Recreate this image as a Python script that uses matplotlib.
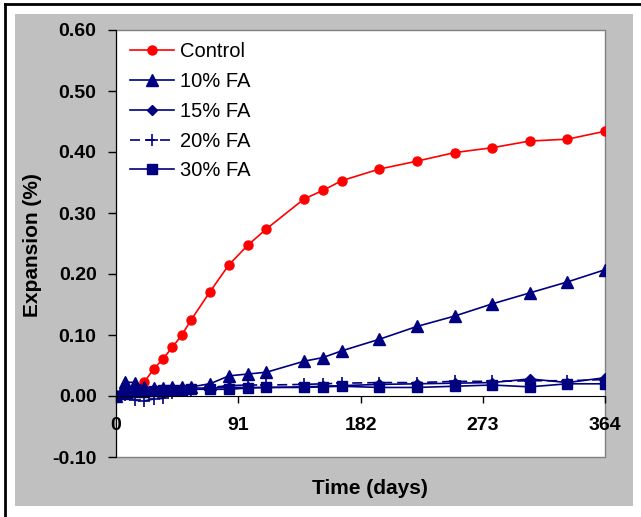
import numpy as np
import matplotlib
matplotlib.use("Agg")
import matplotlib.pyplot as plt
from matplotlib.patches import Rectangle
from matplotlib.lines import Line2D

plt.rcParams['font.family'] = ['Liberation Sans', 'DejaVu Sans']

# data
days = [0, 7, 14, 21, 28, 35, 42, 49, 56, 70, 84, 98, 112, 140, 154, 168,
        196, 224, 252, 280, 308, 336, 364]
control_days = days[3:]
control = [0.023, 0.044, 0.061, 0.080, 0.100, 0.125, 0.171, 0.215, 0.247, 0.274,
           0.323, 0.337, 0.353, 0.372, 0.385, 0.399, 0.407, 0.418, 0.421, 0.434]
fa10 = [0.000, 0.023, 0.022, 0.015, 0.013, 0.013, 0.014, 0.014, 0.015, 0.020, 0.033,
        0.036, 0.039, 0.057, 0.063, 0.074, 0.093, 0.114, 0.131, 0.151, 0.169, 0.187, 0.207]
fa15 = [0.002, 0.005, 0.008, 0.009, 0.010, 0.011, 0.012, 0.012, 0.013, 0.013, 0.014,
        0.014, 0.014, 0.015, 0.016, 0.017, 0.019, 0.020, 0.021, 0.022, 0.028, 0.022, 0.030]
fa20 = [0.000, 0.002, -0.007, -0.008, -0.005, -0.004, 0.005, 0.008, 0.010, 0.014, 0.017,
        0.018, 0.018, 0.019, 0.020, 0.021, 0.022, 0.022, 0.024, 0.024, 0.025, 0.025, 0.027]
fa30 = [0.000, 0.003, 0.007, 0.007, 0.008, 0.010, 0.010, 0.010, 0.011, 0.011, 0.011,
        0.013, 0.014, 0.014, 0.015, 0.016, 0.014, 0.014, 0.016, 0.018, 0.015, 0.020, 0.020]
labels = ['Control', '10% FA', '15% FA', '20% FA', '30% FA']
xticks = [0, 91, 182, 273, 364]
yticks = [-0.10, 0.00, 0.10, 0.20, 0.30, 0.40, 0.50, 0.60]

W, H = 641, 517
fig = plt.figure(figsize=(W / 100, H / 100), dpi=100)
fig.patch.set_facecolor('white')

# grey chart area and the black border bits
fig.add_artist(Rectangle((15 / W, 1 - 506 / H), (633 - 15) / W, (506 - 14) / H,
                         transform=fig.transFigure, facecolor='#c0c0c0',
                         edgecolor='none', zorder=-5))
fig.add_artist(Line2D([5 / W, 1], [1 - 4 / H, 1 - 4 / H], transform=fig.transFigure,
                      color='black', lw=2, zorder=-5))
fig.add_artist(Line2D([5 / W, 5 / W], [0, 1 - 4 / H], transform=fig.transFigure,
                      color='black', lw=2, zorder=-5))

ax = fig.add_axes([116 / W, 1 - 457 / H, (605 - 116) / W, (457 - 30) / H])
ax.set_zorder(2)
ax.set_facecolor('white')

red = '#ff0000'
navy = '#000080'
ax.plot(control_days, control, color=red, lw=1.2, marker='o', ms=6.5, label=labels[0])
ax.plot(days, fa10, color=navy, lw=1.2, marker='^', ms=8, label=labels[1])
ax.plot(days, fa15, color=navy, lw=1.2, marker='D', ms=5.5, label=labels[2])
ax.plot(days, fa20, color=navy, lw=1.2, ls=(0, (6, 3)), marker='+', ms=8, mew=1.2,
        label=labels[3])
ax.plot(days, fa30, color=navy, lw=1.2, marker='s', ms=6.5, label=labels[4])

ax.set_xlim(0, 364)
ax.set_ylim(-0.10, 0.60)
ax.set_xticks(xticks)
ax.set_yticks(yticks)
ax.set_yticklabels(['%.2f' % v for v in yticks])

for s in ['top', 'right']:
    ax.spines[s].set_visible(False)
ax.spines['bottom'].set_position(('data', 0))
ax.spines['left'].set_color('black')
ax.add_patch(Rectangle((0, 0), 1, 1, transform=ax.transAxes, fill=False,
                       edgecolor='#808080', lw=1, zorder=0.5, clip_on=False))

ax.tick_params(axis='y', direction='out', length=6, width=1, pad=8, labelsize=14)
ax.tick_params(axis='x', direction='out', length=5, width=1, pad=10, labelsize=14)
for t in ax.get_xticklabels() + ax.get_yticklabels():
    t.set_fontweight('bold')

fig.text(370 / W, 1 - 488 / H, 'Time (days)', ha='center', va='center',
         fontsize=15, fontweight='bold')
fig.text(32 / W, 1 - 245 / H, 'Expansion (%)', ha='center', va='center',
         rotation=90, fontsize=15, fontweight='bold')

ax.legend(loc='upper left', bbox_to_anchor=(0.0, 1.005), frameon=False, fontsize=14.5,
          handlelength=2.2, handletextpad=0.3, labelspacing=0.54, borderaxespad=0.3)

fig.savefig('out.png', dpi=100)
